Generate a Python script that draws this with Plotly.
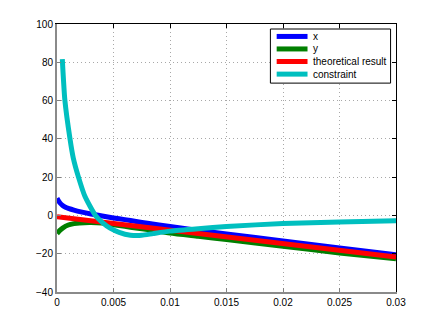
import plotly.graph_objects as go

# ---- data ----
t_x = [0, 0.00025, 0.0005, 0.00075, 0.001, 0.0015, 0.002, 0.003, 0.004, 0.005, 0.006,
       0.007, 0.008, 0.01, 0.0125, 0.015, 0.02, 0.025, 0.03]
x_vals = [9.0, 6.6, 5.2, 4.3, 3.7, 2.8, 2.0, 0.75, -0.3, -1.3, -2.2,
          -3.15, -4.1, -5.8, -7.8, -9.7, -13.3, -17.0, -20.6]

t_y = [0, 0.00025, 0.0005, 0.001, 0.0015, 0.002, 0.003, 0.004, 0.005, 0.006,
       0.007, 0.008, 0.01, 0.0125, 0.015, 0.02, 0.025, 0.03]
y_vals = [-9.5, -7.8, -6.6, -5.0, -4.3, -3.9, -3.7, -4.0, -4.9, -5.7,
          -6.6, -7.4, -9.2, -10.9, -12.6, -16.1, -19.6, -22.7]

t_th = [0, 0.005, 0.01, 0.015, 0.02, 0.025, 0.03]
th_vals = [-0.7, -4.2, -7.7, -11.2, -14.7, -18.2, -21.7]

t_c = [0.00047, 0.0007, 0.00115, 0.00144, 0.0019, 0.00247, 0.0034, 0.004, 0.0047,
       0.0055, 0.0065, 0.0075, 0.0085, 0.01, 0.0125, 0.015, 0.02, 0.025, 0.03]
c_vals = [81.7, 60, 40, 30, 20, 10, 0, -3.6, -6.6,
          -8.8, -10.3, -10.4, -9.5, -8.2, -6.9, -5.8, -4.2, -3.4, -2.8]

series_names = ["x", "y", "theoretical result", "constraint"]
series_colors = ["#0000FF", "#008000", "#FF0000", "#00BFBF"]

x_ticks = [0, 0.005, 0.01, 0.015, 0.02, 0.025, 0.03]
x_tick_text = ["0", "0.005", "0.01", "0.015", "0.02", "0.025", "0.03"]
y_ticks = [-40, -20, 0, 20, 40, 60, 80, 100]

LW = 5
FONT = "Liberation Sans, Arial, Helvetica, sans-serif"
GRID_DASH = "1px,3px"

fig = go.Figure()
fig.add_trace(go.Scatter(x=t_x, y=x_vals, mode="lines", name=series_names[0],
                         line=dict(color=series_colors[0], width=LW, shape="spline", smoothing=0.6)))
fig.add_trace(go.Scatter(x=t_y, y=y_vals, mode="lines", name=series_names[1],
                         line=dict(color=series_colors[1], width=LW, shape="spline", smoothing=0.6)))
fig.add_trace(go.Scatter(x=t_th, y=th_vals, mode="lines", name=series_names[2],
                         line=dict(color=series_colors[2], width=LW)))
fig.add_trace(go.Scatter(x=t_c, y=c_vals, mode="lines", name=series_names[3],
                         line=dict(color=series_colors[3], width=LW, shape="spline", smoothing=0.6)))
# invisible trace to activate mirror (top/right) axes
fig.add_trace(go.Scatter(x=[0], y=[0], xaxis="x2", yaxis="y2", mode="markers",
                         marker=dict(opacity=0), showlegend=False, hoverinfo="skip"))

# ---- MATLAB-style compact legend box (paper coords of plot area) ----
leg_left, leg_right, leg_top, leg_bottom = 0.6295, 0.984, 0.9813, 0.7794
shapes = [dict(type="rect", xref="paper", yref="paper",
               x0=leg_left, x1=leg_right, y0=leg_bottom, y1=leg_top,
               line=dict(color="#000000", width=1), fillcolor="white", layer="above")]
annotations = []
row_y = [0.9536, 0.9069, 0.8601, 0.8130]
for name, color, yy in zip(series_names, series_colors, row_y):
    shapes.append(dict(type="line", xref="paper", yref="paper",
                       x0=0.648, x1=0.739, y0=yy, y1=yy,
                       line=dict(color=color, width=LW), layer="above"))
    annotations.append(dict(xref="paper", yref="paper", x=0.750, y=yy,
                            text=name, showarrow=False, xanchor="left", yanchor="middle",
                            font=dict(family=FONT, size=10, color="#000000")))

common = dict(ticks="inside", ticklen=4, tickcolor="#000000", tickwidth=1,
              zeroline=False, showgrid=False)

fig.update_layout(
    width=429, height=320,
    margin=dict(l=49, r=40.5, t=16.3, b=36.3, autoexpand=False),
    paper_bgcolor="white", plot_bgcolor="white",
    font=dict(family=FONT, size=10, color="#000000"),
    showlegend=False,
    shapes=shapes,
    annotations=annotations,
    xaxis=dict(range=[0, 0.03], tickvals=x_ticks, ticktext=x_tick_text,
               showline=True, linecolor="#8a8a8a", linewidth=2,
               showgrid=True, gridcolor="#a8a8a8", griddash=GRID_DASH, gridwidth=1,
               ticks="inside", ticklen=4, tickcolor="#808080", zeroline=False,
               automargin=False),
    yaxis=dict(range=[-40, 100], tickvals=y_ticks,
               showline=True, linecolor="#8a8a8a", linewidth=2,
               showgrid=True, gridcolor="#a8a8a8", griddash=GRID_DASH, gridwidth=1,
               ticks="inside", ticklen=4, tickcolor="#808080", zeroline=False,
               automargin=False),
    xaxis2=dict(overlaying="x", side="top", range=[0, 0.03], tickvals=x_ticks,
                showticklabels=False, showline=True, linecolor="#000000", linewidth=1,
                **common),
    yaxis2=dict(overlaying="y", side="right", range=[-40, 100], tickvals=y_ticks,
                showticklabels=False, showline=True, linecolor="#000000", linewidth=1,
                **common),
)

fig.write_html("out.html")
